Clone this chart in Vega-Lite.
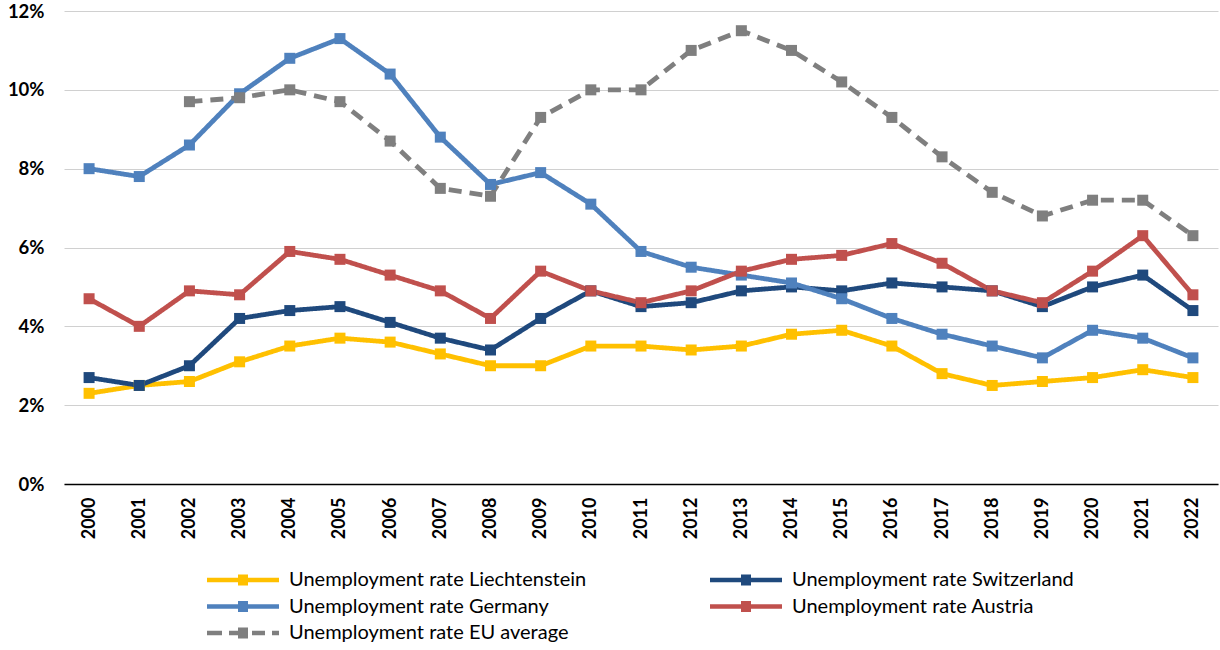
{
  "$schema": "https://vega.github.io/schema/vega-lite/v6.json",
  "autosize": "none",
  "width": 1154,
  "height": 473,
  "padding": {"left": 64, "top": 11, "right": 2, "bottom": 166},
  "background": "white",
  "config": {
    "view": {"stroke": null},
    "font": "Lato"
  },
  "data": {
    "values": [
      {"s": "Unemployment rate Liechtenstein", "y": "2000", "v": 2.3},
      {"s": "Unemployment rate Liechtenstein", "y": "2001", "v": 2.5},
      {"s": "Unemployment rate Liechtenstein", "y": "2002", "v": 2.6},
      {"s": "Unemployment rate Liechtenstein", "y": "2003", "v": 3.1},
      {"s": "Unemployment rate Liechtenstein", "y": "2004", "v": 3.5},
      {"s": "Unemployment rate Liechtenstein", "y": "2005", "v": 3.7},
      {"s": "Unemployment rate Liechtenstein", "y": "2006", "v": 3.6},
      {"s": "Unemployment rate Liechtenstein", "y": "2007", "v": 3.3},
      {"s": "Unemployment rate Liechtenstein", "y": "2008", "v": 3.0},
      {"s": "Unemployment rate Liechtenstein", "y": "2009", "v": 3.0},
      {"s": "Unemployment rate Liechtenstein", "y": "2010", "v": 3.5},
      {"s": "Unemployment rate Liechtenstein", "y": "2011", "v": 3.5},
      {"s": "Unemployment rate Liechtenstein", "y": "2012", "v": 3.4},
      {"s": "Unemployment rate Liechtenstein", "y": "2013", "v": 3.5},
      {"s": "Unemployment rate Liechtenstein", "y": "2014", "v": 3.8},
      {"s": "Unemployment rate Liechtenstein", "y": "2015", "v": 3.9},
      {"s": "Unemployment rate Liechtenstein", "y": "2016", "v": 3.5},
      {"s": "Unemployment rate Liechtenstein", "y": "2017", "v": 2.8},
      {"s": "Unemployment rate Liechtenstein", "y": "2018", "v": 2.5},
      {"s": "Unemployment rate Liechtenstein", "y": "2019", "v": 2.6},
      {"s": "Unemployment rate Liechtenstein", "y": "2020", "v": 2.7},
      {"s": "Unemployment rate Liechtenstein", "y": "2021", "v": 2.9},
      {"s": "Unemployment rate Liechtenstein", "y": "2022", "v": 2.7},
      {"s": "Unemployment rate Switzerland", "y": "2000", "v": 2.7},
      {"s": "Unemployment rate Switzerland", "y": "2001", "v": 2.5},
      {"s": "Unemployment rate Switzerland", "y": "2002", "v": 3.0},
      {"s": "Unemployment rate Switzerland", "y": "2003", "v": 4.2},
      {"s": "Unemployment rate Switzerland", "y": "2004", "v": 4.4},
      {"s": "Unemployment rate Switzerland", "y": "2005", "v": 4.5},
      {"s": "Unemployment rate Switzerland", "y": "2006", "v": 4.1},
      {"s": "Unemployment rate Switzerland", "y": "2007", "v": 3.7},
      {"s": "Unemployment rate Switzerland", "y": "2008", "v": 3.4},
      {"s": "Unemployment rate Switzerland", "y": "2009", "v": 4.2},
      {"s": "Unemployment rate Switzerland", "y": "2010", "v": 4.9},
      {"s": "Unemployment rate Switzerland", "y": "2011", "v": 4.5},
      {"s": "Unemployment rate Switzerland", "y": "2012", "v": 4.6},
      {"s": "Unemployment rate Switzerland", "y": "2013", "v": 4.9},
      {"s": "Unemployment rate Switzerland", "y": "2014", "v": 5.0},
      {"s": "Unemployment rate Switzerland", "y": "2015", "v": 4.9},
      {"s": "Unemployment rate Switzerland", "y": "2016", "v": 5.1},
      {"s": "Unemployment rate Switzerland", "y": "2017", "v": 5.0},
      {"s": "Unemployment rate Switzerland", "y": "2018", "v": 4.9},
      {"s": "Unemployment rate Switzerland", "y": "2019", "v": 4.5},
      {"s": "Unemployment rate Switzerland", "y": "2020", "v": 5.0},
      {"s": "Unemployment rate Switzerland", "y": "2021", "v": 5.3},
      {"s": "Unemployment rate Switzerland", "y": "2022", "v": 4.4},
      {"s": "Unemployment rate Germany", "y": "2000", "v": 8.0},
      {"s": "Unemployment rate Germany", "y": "2001", "v": 7.8},
      {"s": "Unemployment rate Germany", "y": "2002", "v": 8.6},
      {"s": "Unemployment rate Germany", "y": "2003", "v": 9.9},
      {"s": "Unemployment rate Germany", "y": "2004", "v": 10.8},
      {"s": "Unemployment rate Germany", "y": "2005", "v": 11.3},
      {"s": "Unemployment rate Germany", "y": "2006", "v": 10.4},
      {"s": "Unemployment rate Germany", "y": "2007", "v": 8.8},
      {"s": "Unemployment rate Germany", "y": "2008", "v": 7.6},
      {"s": "Unemployment rate Germany", "y": "2009", "v": 7.9},
      {"s": "Unemployment rate Germany", "y": "2010", "v": 7.1},
      {"s": "Unemployment rate Germany", "y": "2011", "v": 5.9},
      {"s": "Unemployment rate Germany", "y": "2012", "v": 5.5},
      {"s": "Unemployment rate Germany", "y": "2013", "v": 5.3},
      {"s": "Unemployment rate Germany", "y": "2014", "v": 5.1},
      {"s": "Unemployment rate Germany", "y": "2015", "v": 4.7},
      {"s": "Unemployment rate Germany", "y": "2016", "v": 4.2},
      {"s": "Unemployment rate Germany", "y": "2017", "v": 3.8},
      {"s": "Unemployment rate Germany", "y": "2018", "v": 3.5},
      {"s": "Unemployment rate Germany", "y": "2019", "v": 3.2},
      {"s": "Unemployment rate Germany", "y": "2020", "v": 3.9},
      {"s": "Unemployment rate Germany", "y": "2021", "v": 3.7},
      {"s": "Unemployment rate Germany", "y": "2022", "v": 3.2},
      {"s": "Unemployment rate Austria", "y": "2000", "v": 4.7},
      {"s": "Unemployment rate Austria", "y": "2001", "v": 4.0},
      {"s": "Unemployment rate Austria", "y": "2002", "v": 4.9},
      {"s": "Unemployment rate Austria", "y": "2003", "v": 4.8},
      {"s": "Unemployment rate Austria", "y": "2004", "v": 5.9},
      {"s": "Unemployment rate Austria", "y": "2005", "v": 5.7},
      {"s": "Unemployment rate Austria", "y": "2006", "v": 5.3},
      {"s": "Unemployment rate Austria", "y": "2007", "v": 4.9},
      {"s": "Unemployment rate Austria", "y": "2008", "v": 4.2},
      {"s": "Unemployment rate Austria", "y": "2009", "v": 5.4},
      {"s": "Unemployment rate Austria", "y": "2010", "v": 4.9},
      {"s": "Unemployment rate Austria", "y": "2011", "v": 4.6},
      {"s": "Unemployment rate Austria", "y": "2012", "v": 4.9},
      {"s": "Unemployment rate Austria", "y": "2013", "v": 5.4},
      {"s": "Unemployment rate Austria", "y": "2014", "v": 5.7},
      {"s": "Unemployment rate Austria", "y": "2015", "v": 5.8},
      {"s": "Unemployment rate Austria", "y": "2016", "v": 6.1},
      {"s": "Unemployment rate Austria", "y": "2017", "v": 5.6},
      {"s": "Unemployment rate Austria", "y": "2018", "v": 4.9},
      {"s": "Unemployment rate Austria", "y": "2019", "v": 4.6},
      {"s": "Unemployment rate Austria", "y": "2020", "v": 5.4},
      {"s": "Unemployment rate Austria", "y": "2021", "v": 6.3},
      {"s": "Unemployment rate Austria", "y": "2022", "v": 4.8},
      {"s": "Unemployment rate EU average", "y": "2002", "v": 9.7},
      {"s": "Unemployment rate EU average", "y": "2003", "v": 9.8},
      {"s": "Unemployment rate EU average", "y": "2004", "v": 10.0},
      {"s": "Unemployment rate EU average", "y": "2005", "v": 9.7},
      {"s": "Unemployment rate EU average", "y": "2006", "v": 8.7},
      {"s": "Unemployment rate EU average", "y": "2007", "v": 7.5},
      {"s": "Unemployment rate EU average", "y": "2008", "v": 7.3},
      {"s": "Unemployment rate EU average", "y": "2009", "v": 9.3},
      {"s": "Unemployment rate EU average", "y": "2010", "v": 10.0},
      {"s": "Unemployment rate EU average", "y": "2011", "v": 10.0},
      {"s": "Unemployment rate EU average", "y": "2012", "v": 11.0},
      {"s": "Unemployment rate EU average", "y": "2013", "v": 11.5},
      {"s": "Unemployment rate EU average", "y": "2014", "v": 11.0},
      {"s": "Unemployment rate EU average", "y": "2015", "v": 10.2},
      {"s": "Unemployment rate EU average", "y": "2016", "v": 9.3},
      {"s": "Unemployment rate EU average", "y": "2017", "v": 8.3},
      {"s": "Unemployment rate EU average", "y": "2018", "v": 7.4},
      {"s": "Unemployment rate EU average", "y": "2019", "v": 6.8},
      {"s": "Unemployment rate EU average", "y": "2020", "v": 7.2},
      {"s": "Unemployment rate EU average", "y": "2021", "v": 7.2},
      {"s": "Unemployment rate EU average", "y": "2022", "v": 6.3}
    ]
  },
  "encoding": {
    "x": {
      "field": "y", "type": "ordinal",
      "scale": {"type": "point", "padding": 0.5},
      "axis": {
        "title": null, "labelAngle": -90, "ticks": false, "grid": false,
        "labelPadding": 13, "labelFont": "Lato", "labelFontSize": 18, "labelFontWeight": "bold",
        "labelColor": "#000000", "domainColor": "#000000", "domainWidth": 1.5
      }
    },
    "y": {
      "field": "v", "type": "quantitative",
      "scale": {"domain": [0, 12], "nice": false},
      "axis": {
        "title": null, "values": [0, 2, 4, 6, 8, 10, 12], "labelExpr": "datum.value + '%'",
        "ticks": false, "domain": false, "grid": true, "gridColor": "#d0d0d0", "gridWidth": 1,
        "labelPadding": 20, "labelFont": "Lato", "labelFontSize": 18.5, "labelFontWeight": "bold",
        "labelColor": "#000000"
      }
    },
    "color": {
      "field": "s", "type": "nominal",
      "scale": {
        "domain": ["Unemployment rate Liechtenstein", "Unemployment rate Switzerland", "Unemployment rate Germany", "Unemployment rate Austria", "Unemployment rate EU average"],
        "range": ["#FFC000", "#1F497D", "#4F81BD", "#C0504D", "#7F7F7F"]
      },
      "legend": {
        "title": null, "orient": "none", "legendX": 143, "legendY": 559, "columns": 2,
        "direction": "horizontal",
        "columnPadding": 123, "rowPadding": 6.5, "symbolSize": 400, "labelOffset": 62,
        "labelLimit": 500,
        "labelFont": "Lato", "labelFontSize": 20, "labelColor": "#000000",
        "symbolStrokeWidth": 0,
        "encode": {
          "symbols": {
            "update": {
              "fill": {"scale": "color", "field": "value"},
              "strokeWidth": {"value": 0},
              "shape": {"signal": "datum.value == 'Unemployment rate EU average' ? 'M-1,-0.22H0.5V0.22H-1Z M1.2,-0.22H2.3V0.22H1.2Z M2.1,-0.55H3.1V0.55H2.1Z M3.5,-0.22H4.8V0.22H3.5Z M5.5,-0.22H6.2V0.22H5.5Z' : 'M-1,-0.22H6.2V0.22H-1Z M2.1,-0.55H3.1V0.55H2.1Z'"}
            }
          }
        }
      }
    }
  },
  "layer": [
    {
      "mark": {"type": "line", "strokeWidth": 4.8},
      "encoding": {
        "strokeDash": {
          "field": "s", "type": "nominal", "legend": null,
          "scale": {
            "domain": ["Unemployment rate Liechtenstein", "Unemployment rate Switzerland", "Unemployment rate Germany", "Unemployment rate Austria", "Unemployment rate EU average"],
            "range": [[1, 0], [1, 0], [1, 0], [1, 0], [13, 8]]
          }
        }
      }
    },
    {
      "mark": {"type": "point", "shape": "square", "filled": true, "opacity": 1, "size": 121, "strokeWidth": 0}
    }
  ]
}
